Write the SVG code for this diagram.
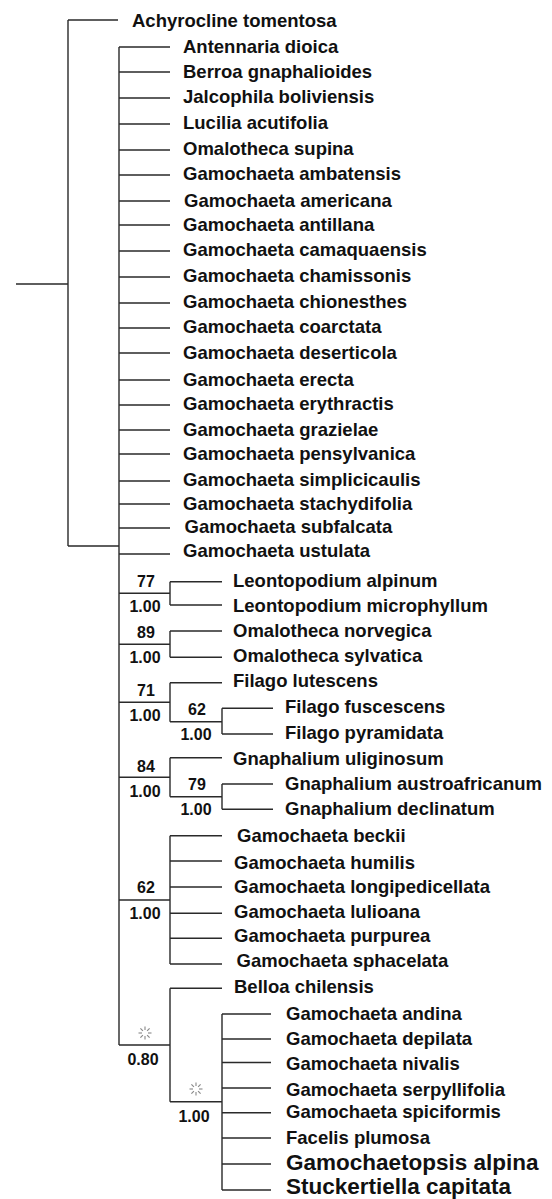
<svg xmlns="http://www.w3.org/2000/svg" xmlns:xlink="http://www.w3.org/1999/xlink" width="552" height="1199" viewBox="0 0 552 1199">
<style>
.t{font-family:"Liberation Sans",Arial,sans-serif;font-weight:bold;font-size:18.5px;fill:#111}
.b{font-size:22.5px}
.n{font-family:"Liberation Sans",Arial,sans-serif;font-weight:bold;font-size:16px;fill:#111;text-anchor:middle}
.e{stroke:#2a2a2a;stroke-width:1.4;fill:none}
</style>
<defs>
<g id="star" stroke="#888" stroke-width="1.1">
<line x1="0" y1="-3" x2="0" y2="-6.5"/><line x1="0" y1="3" x2="0" y2="6.5"/>
<line x1="-3" y1="0" x2="-6.5" y2="0"/><line x1="3" y1="0" x2="6.5" y2="0"/>
<line x1="2.1" y1="-2.1" x2="4.6" y2="-4.6"/><line x1="-2.1" y1="-2.1" x2="-4.6" y2="-4.6"/>
<line x1="2.1" y1="2.1" x2="4.6" y2="4.6"/><line x1="-2.1" y1="2.1" x2="-4.6" y2="4.6"/>
</g>
</defs>
<rect width="552" height="1199" fill="#fff"/>
<g id="connectors" class="e">
<path d="M16 284H68M68 20V546M68 20H118M68 546H119M119 47V1045"/>
<path d="M119 47H170M119 72H170M119 98H170M119 124H170M119 150H170M119 175H170M119 201H170M119 225H170M119 251H170M119 277H170M119 303H170M119 328H170M119 353H170M119 380H170M119 405H170M119 430H170M119 454H170M119 481H170M119 504H170M119 528H170M119 554H170"/>
<path d="M119 593.3H170M170 581.7V605M170 581.7H222M170 605H222"/>
<path d="M119 644.3H170M170 631V657.3M170 631H222M170 657.3H222"/>
<path d="M119 702.3H170M170 682.7V721.7M170 682.7H222M170 721.7H222M222 708.3V734M222 708.3H273M222 734H273"/>
<path d="M119 777.3H170M170 757.7V796.7M170 757.7H222M170 796.7H222M222 784V809.3M222 784H273M222 809.3H273"/>
<path d="M119 900H170M170 835.7V964M170 835.7H222M170 861H222M170 887H222M170 913.3H222M170 938.3H222M170 964H222"/>
<path d="M119 1045H170M170 988.3V1101.7M170 988.3H222M170 1101.7H222M222 1014V1190M222 1014H271M222 1039H271M222 1062.5H271M222 1088H271M222 1112.7H271M222 1138H271M222 1164H271M222 1190H271"/>
</g>
<g id="n-achyrocline"><text class="t" x="132" y="26.5">Achyrocline tomentosa</text></g>
<g id="n-antennaria"><text class="t" x="183" y="52.7">Antennaria dioica</text></g>
<g id="n-berroa"><text class="t" x="183" y="78.3">Berroa gnaphalioides</text></g>
<g id="n-jalcophila"><text class="t" x="183" y="102.7">Jalcophila boliviensis</text></g>
<g id="n-lucilia"><text class="t" x="183" y="129.3">Lucilia acutifolia</text></g>
<g id="n-omalotheca-supina"><text class="t" x="183" y="155">Omalotheca supina</text></g>
<g id="n-g-ambatensis"><text class="t" x="183" y="180">Gamochaeta ambatensis</text></g>
<g id="n-g-americana"><text class="t" x="184" y="206.7">Gamochaeta americana</text></g>
<g id="n-g-antillana"><text class="t" x="183" y="230.7">Gamochaeta antillana</text></g>
<g id="n-g-camaquaensis"><text class="t" x="183" y="255.7">Gamochaeta camaquaensis</text></g>
<g id="n-g-chamissonis"><text class="t" x="183" y="281.7">Gamochaeta chamissonis</text></g>
<g id="n-g-chionesthes"><text class="t" x="183" y="308.3">Gamochaeta chionesthes</text></g>
<g id="n-g-coarctata"><text class="t" x="183" y="333.3">Gamochaeta coarctata</text></g>
<g id="n-g-deserticola"><text class="t" x="183" y="359">Gamochaeta deserticola</text></g>
<g id="n-g-erecta"><text class="t" x="183" y="386">Gamochaeta erecta</text></g>
<g id="n-g-erythractis"><text class="t" x="183" y="410">Gamochaeta erythractis</text></g>
<g id="n-g-grazielae"><text class="t" x="183" y="435.7">Gamochaeta grazielae</text></g>
<g id="n-g-pensylvanica"><text class="t" x="183" y="460">Gamochaeta pensylvanica</text></g>
<g id="n-g-simplicicaulis"><text class="t" x="183" y="486">Gamochaeta simplicicaulis</text></g>
<g id="n-g-stachydifolia"><text class="t" x="183" y="510">Gamochaeta stachydifolia</text></g>
<g id="n-g-subfalcata"><text class="t" x="184.5" y="533.3">Gamochaeta subfalcata</text></g>
<g id="n-g-ustulata"><text class="t" x="183" y="557.3">Gamochaeta ustulata</text></g>
<g id="n-l-alpinum"><text class="t" x="233" y="587">Leontopodium alpinum</text></g>
<g id="n-l-microphyllum"><text class="t" x="233" y="611.7">Leontopodium microphyllum</text></g>
<g id="n-o-norvegica"><text class="t" x="233" y="636.7">Omalotheca norvegica</text></g>
<g id="n-o-sylvatica"><text class="t" x="233" y="662.3">Omalotheca sylvatica</text></g>
<g id="n-f-lutescens"><text class="t" x="233" y="687.3">Filago lutescens</text></g>
<g id="n-f-fuscescens"><text class="t" x="285" y="712.7">Filago fuscescens</text></g>
<g id="n-f-pyramidata"><text class="t" x="285" y="739.3">Filago pyramidata</text></g>
<g id="n-gn-uliginosum"><text class="t" x="233" y="765">Gnaphalium uliginosum</text></g>
<g id="n-gn-austroafricanum"><text class="t" x="285" y="790">Gnaphalium austroafricanum</text></g>
<g id="n-gn-declinatum"><text class="t" x="285" y="815">Gnaphalium declinatum</text></g>
<g id="n-g-beckii"><text class="t" x="237" y="841.5">Gamochaeta beckii</text></g>
<g id="n-g-humilis"><text class="t" x="234" y="869.3">Gamochaeta humilis</text></g>
<g id="n-g-longipedicellata"><text class="t" x="234" y="893.3">Gamochaeta longipedicellata</text></g>
<g id="n-g-lulioana"><text class="t" x="234" y="918.3">Gamochaeta lulioana</text></g>
<g id="n-g-purpurea"><text class="t" x="234" y="941.7">Gamochaeta purpurea</text></g>
<g id="n-g-sphacelata"><text class="t" x="236.5" y="966.7">Gamochaeta sphacelata</text></g>
<g id="n-belloa"><text class="t" x="234" y="992.7">Belloa chilensis</text></g>
<g id="n-g-andina"><text class="t" x="286" y="1019.5">Gamochaeta andina</text></g>
<g id="n-g-depilata"><text class="t" x="286" y="1045">Gamochaeta depilata</text></g>
<g id="n-g-nivalis"><text class="t" x="286" y="1070">Gamochaeta nivalis</text></g>
<g id="n-g-serpyllifolia"><text class="t" x="286" y="1096">Gamochaeta serpyllifolia</text></g>
<g id="n-g-spiciformis"><text class="t" x="286" y="1118.3">Gamochaeta spiciformis</text></g>
<g id="n-facelis"><text class="t" x="286" y="1144">Facelis plumosa</text></g>
<g id="n-gamochaetopsis"><text class="t b" x="286" y="1170">Gamochaetopsis alpina</text></g>
<g id="n-stuckertiella"><text class="t b" x="286" y="1193.5">Stuckertiella capitata</text></g>
<g id="s-leontopodium"><text class="n" x="146" y="587">77</text><text class="n" x="145" y="611.7">1.00</text></g>
<g id="s-omalotheca"><text class="n" x="146" y="638.3">89</text><text class="n" x="145" y="663.3">1.00</text></g>
<g id="s-filago"><text class="n" x="146" y="696">71</text><text class="n" x="145" y="720.7">1.00</text></g>
<g id="s-filago-sub"><text class="n" x="197" y="715">62</text><text class="n" x="196" y="740">1.00</text></g>
<g id="s-gnaphalium"><text class="n" x="146" y="771.7">84</text><text class="n" x="145" y="796.7">1.00</text></g>
<g id="s-gnaphalium-sub"><text class="n" x="197" y="790">79</text><text class="n" x="196" y="815">1.00</text></g>
<g id="s-gamochaeta-a"><text class="n" x="146" y="893.3">62</text><text class="n" x="145" y="919">1.00</text></g>
<g id="s-belloa-clade"><use xlink:href="#star" x="145" y="1033"/><text class="n" x="143" y="1065">0.80</text></g>
<g id="s-gamochaeta-b"><use xlink:href="#star" x="196" y="1089"/><text class="n" x="194" y="1121.7">1.00</text></g>
</svg>
